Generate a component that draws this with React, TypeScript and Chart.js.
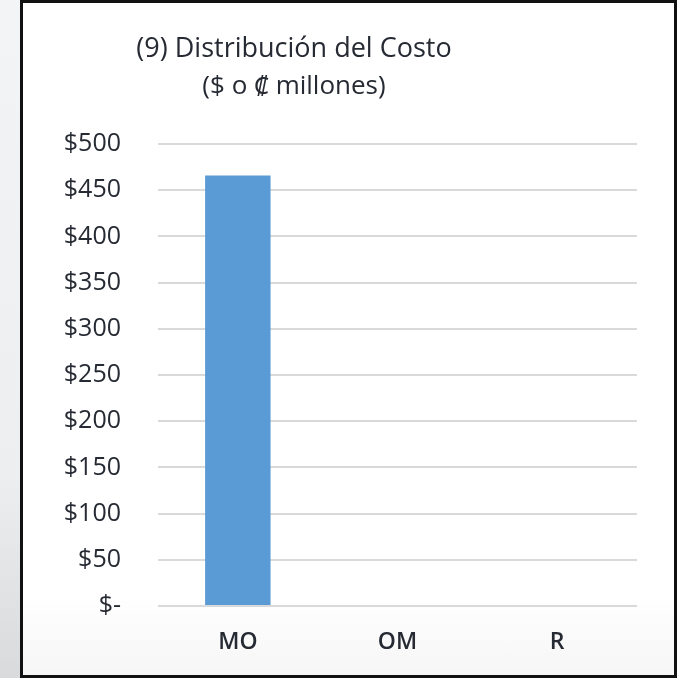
import React, { useEffect, useRef } from "react";
import { Chart, registerables } from "chart.js";

Chart.register(...registerables);

const categories = ["MO", "OM", "R"];
const costValues = [466, 0, 0];
const yMin = 0;
const yMax = 500;
const yStep = 50;
const titleLines = ["(9) Distribución del Costo", "($ o ₡ millones)"];

const FONT = "'Open Sans', 'Noto Sans', sans-serif";
const TEXT_COLOR = "#262a33";

const titlePlugin = {
  id: "boxTitle",
  afterDraw(chart: any) {
    const ctx = chart.ctx;
    ctx.save();
    ctx.fillStyle = TEXT_COLOR;
    ctx.textAlign = "center";
    ctx.textBaseline = "middle";
    ctx.font = `27px ${FONT}`;
    ctx.fillText(titleLines[0], 294, 49);
    ctx.font = `26px ${FONT}`;
    ctx.fillText(titleLines[1], 294, 87);
    ctx.restore();
  },
};

export default function App() {
  const ref = useRef<HTMLCanvasElement>(null);

  useEffect(() => {
    document.body.style.margin = "0";
    const chart = new Chart(ref.current as HTMLCanvasElement, {
      type: "bar",
      data: {
        labels: categories,
        datasets: [
          {
            data: costValues,
            backgroundColor: "#5b9bd5",
            borderWidth: 0,
            categoryPercentage: 1,
            barPercentage: 0.41,
          },
        ],
      },
      options: {
        animation: false,
        responsive: false,
        events: [],
        layout: { padding: { top: 144, left: 0, right: 40, bottom: 0 } },
        plugins: {
          legend: { display: false },
          tooltip: { enabled: false },
          title: { display: false },
        },
        scales: {
          x: {
            afterFit: (s: any) => {
              s.height = 72;
            },
            grid: { display: false, drawTicks: false },
            border: { display: false },
            ticks: {
              color: TEXT_COLOR,
              font: { family: FONT, size: 23, weight: "600" },
              padding: 23,
            },
          },
          y: {
            min: yMin,
            max: yMax,
            afterFit: (s: any) => {
              s.width = 158;
            },
            grid: { color: "#d9d9d9", lineWidth: 2, drawTicks: false },
            border: { display: false },
            ticks: {
              stepSize: yStep,
              color: TEXT_COLOR,
              font: { family: FONT, size: 25, weight: "500" },
              padding: 37,
              callback: (v: any) => (Number(v) === 0 ? "$-" : "$" + v),
            },
          },
        },
      },
      plugins: [titlePlugin],
    });
    return () => chart.destroy();
  }, []);

  return (
    <div
      style={{
        position: "fixed",
        left: 0,
        top: 0,
        width: 677,
        height: 678,
        background: "linear-gradient(180deg, #f3f4f5 0%, #eceeef 70%, #d9dadb 100%)",
        overflow: "hidden",
      }}
    >
      <div
        style={{
          position: "absolute",
          left: 20,
          top: 0,
          width: 657,
          height: 678,
          boxSizing: "border-box",
          border: "3px solid #111",
          background: "linear-gradient(180deg, #ffffff 0%, #ffffff 88%, #f6f6f6 100%)",
        }}
      />
      <canvas
        ref={ref}
        width={677}
        height={678}
        style={{ position: "absolute", left: 0, top: 0 }}
      />
    </div>
  );
}
